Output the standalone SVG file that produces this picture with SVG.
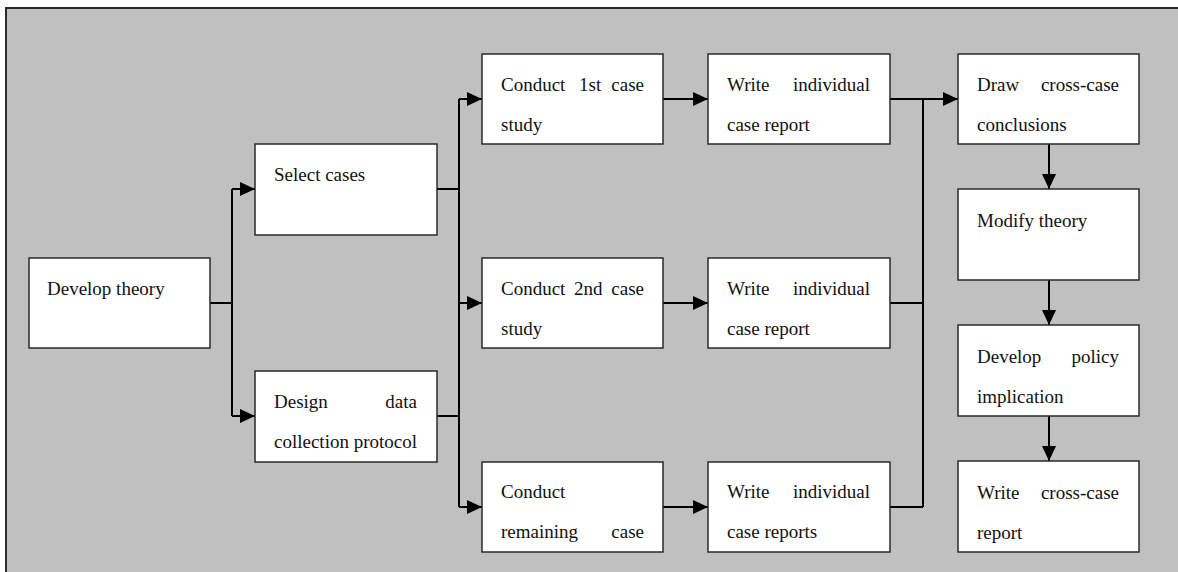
<svg xmlns="http://www.w3.org/2000/svg" width="1178" height="572" viewBox="0 0 1178 572">
<style>
.box{fill:#ffffff;stroke:#2a2a2a;stroke-width:1.5}
.t{font-family:"Liberation Serif","Times New Roman",serif;font-size:19px;fill:#111}
.e{text-anchor:end}
.ln{fill:none;stroke:#000;stroke-width:2}
.ar{fill:none;stroke:#000;stroke-width:2;marker-end:url(#ah)}
</style>
<defs>
<marker id="ah" markerUnits="userSpaceOnUse" markerWidth="16" markerHeight="14" refX="15" refY="7" orient="auto">
<path d="M0,0 L15,7 L0,14 z" fill="#000"/>
</marker>
</defs>
<rect x="0" y="0" width="1178" height="572" fill="#ffffff"/>
<rect x="6" y="8" width="1172" height="564" fill="#c0c0c0"/>
<path d="M5,8 H1178 M6,8 V572" stroke="#2a2a2a" stroke-width="2" fill="none"/>

<g id="connectors">
<path class="ln" d="M210,303 H232 M232,189 V416"/>
<path class="ar" d="M232,189 H255"/>
<path class="ar" d="M232,416 H255"/>
<path class="ln" d="M437,189 H459 M437,416 H459 M459,99 V507"/>
<path class="ar" d="M459,99 H482"/>
<path class="ar" d="M459,303 H482"/>
<path class="ar" d="M459,507 H482"/>
<path class="ar" d="M663,99 H708"/>
<path class="ar" d="M663,303 H708"/>
<path class="ar" d="M663,507 H708"/>
<path class="ar" d="M890,99 H958"/>
<path class="ln" d="M890,303 H923 M890,507 H923 M923,99 V507"/>
<path class="ar" d="M1049,144 V189"/>
<path class="ar" d="M1049,280 V325"/>
<path class="ar" d="M1049,416 V461"/>
</g>

<g id="develop-theory">
<rect class="box" x="29" y="258" width="181" height="90"/>
<text class="t" x="47" y="295">Develop theory</text>
</g>
<g id="select-cases">
<rect class="box" x="255" y="144" width="182" height="91"/>
<text class="t" x="274" y="181">Select cases</text>
</g>
<g id="design-protocol">
<rect class="box" x="255" y="371" width="182" height="91"/>
<text class="t" x="274" y="408">Design</text>
<text class="t e" x="417" y="408">data</text>
<text class="t" x="274" y="448" textLength="143" lengthAdjust="spacingAndGlyphs">collection protocol</text>
</g>
<g id="conduct-1st">
<rect class="box" x="482" y="54" width="181" height="90"/>
<text class="t" x="501" y="91">Conduct</text>
<text class="t" x="579" y="91">1st</text>
<text class="t e" x="644" y="91">case</text>
<text class="t" x="501" y="131">study</text>
</g>
<g id="conduct-2nd">
<rect class="box" x="482" y="258" width="181" height="90"/>
<text class="t" x="501" y="295">Conduct</text>
<text class="t" x="574" y="295">2nd</text>
<text class="t e" x="644" y="295">case</text>
<text class="t" x="501" y="335">study</text>
</g>
<g id="conduct-remaining">
<rect class="box" x="482" y="462" width="181" height="90"/>
<text class="t" x="501" y="498">Conduct</text>
<text class="t" x="501" y="538">remaining</text>
<text class="t e" x="644" y="538">case</text>
</g>
<g id="write-report-1">
<rect class="box" x="708" y="54" width="182" height="90"/>
<text class="t" x="727" y="91">Write</text>
<text class="t e" x="870" y="91">individual</text>
<text class="t" x="727" y="131">case report</text>
</g>
<g id="write-report-2">
<rect class="box" x="708" y="258" width="182" height="90"/>
<text class="t" x="727" y="295">Write</text>
<text class="t e" x="870" y="295">individual</text>
<text class="t" x="727" y="335">case report</text>
</g>
<g id="write-report-3">
<rect class="box" x="708" y="462" width="182" height="90"/>
<text class="t" x="727" y="498">Write</text>
<text class="t e" x="870" y="498">individual</text>
<text class="t" x="727" y="538">case reports</text>
</g>
<g id="draw-conclusions">
<rect class="box" x="958" y="54" width="181" height="90"/>
<text class="t" x="977" y="91">Draw</text>
<text class="t e" x="1119" y="91">cross-case</text>
<text class="t" x="977" y="131">conclusions</text>
</g>
<g id="modify-theory">
<rect class="box" x="958" y="189" width="181" height="91"/>
<text class="t" x="977" y="227">Modify theory</text>
</g>
<g id="develop-policy">
<rect class="box" x="958" y="325" width="181" height="91"/>
<text class="t" x="977" y="363">Develop</text>
<text class="t e" x="1119" y="363">policy</text>
<text class="t" x="977" y="403">implication</text>
</g>
<g id="write-cross-case">
<rect class="box" x="958" y="461" width="181" height="91"/>
<text class="t" x="977" y="499">Write</text>
<text class="t e" x="1119" y="499">cross-case</text>
<text class="t" x="977" y="539">report</text>
</g>
</svg>
